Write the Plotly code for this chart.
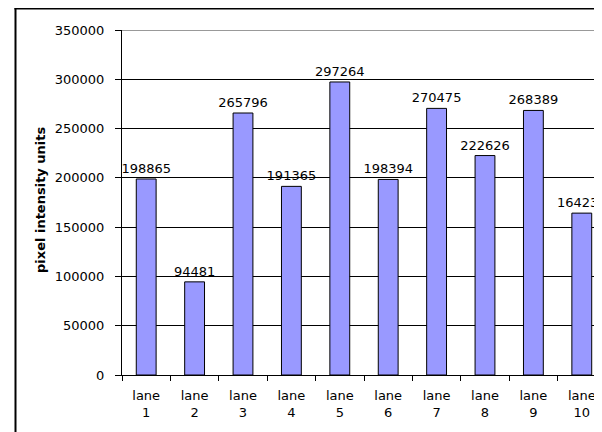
import plotly.graph_objects as go

categories = ["lane<br>1", "lane<br>2", "lane<br>3", "lane<br>4", "lane<br>5",
              "lane<br>6", "lane<br>7", "lane<br>8", "lane<br>9", "lane<br>10"]
values = [198865, 94481, 265796, 191365, 297264, 198394, 270475, 222626, 268389, 164233]
y_ticks = [0, 50000, 100000, 150000, 200000, 250000, 300000, 350000]

FONT = "DejaVu Sans"
FS = 13
OFF = 8  # page body margin offset
W, H = 602 - OFF, 432 - OFF
# plot area in page pixels: left 122, top 30, bottom 375, right 602
L, T = 122 - OFF, 30 - OFF
B = H - (375 - OFF)
plot_w = W - L
plot_h = H - T - B

fig = go.Figure()
fig.add_trace(go.Bar(
    x=categories, y=values,
    marker=dict(color="#9999FF", line=dict(color="black", width=1)),
    width=0.41,
    text=[str(v) for v in values], textposition="outside",
    constraintext="none",
    textfont=dict(family=FONT, size=FS, color="black"),
    cliponaxis=False,
))

def px_x(px):  # page px -> paper
    return (px - OFF - L) / plot_w

def px_y(py):
    return (H - B - (py - OFF)) / plot_h

fig.update_layout(
    width=W, height=H,
    margin=dict(l=L, r=0, t=T, b=B, pad=0, autoexpand=False),
    paper_bgcolor="white", plot_bgcolor="white",
    showlegend=False,
    font=dict(family=FONT, size=FS, color="black"),
    xaxis=dict(
        range=[-0.5, 9.5 - 4 / 48.5],
        automargin=False,
        showline=True, linecolor="black", linewidth=1,
        ticks="outside", ticklen=5, tickcolor="black", tickson="boundaries",
        showgrid=False,
        tickfont=dict(family=FONT, size=FS),
        ticklabelstandoff=8,
    ),
    yaxis=dict(
        range=[0, 350000], tickvals=y_ticks,
        ticktext=[str(v) for v in y_ticks],
        automargin=False,
        showline=True, linecolor="black", linewidth=1,
        ticks="outside", ticklen=6, tickcolor="black",
        showgrid=True, gridcolor="black", gridwidth=1,
        zeroline=False,
        tickfont=dict(family=FONT, size=FS),
        ticklabelstandoff=8,
    ),
    shapes=[
        dict(type="line", xref="paper", yref="y", x0=0, x1=1.01, y0=350000, y1=350000,
             line=dict(color="#999999", width=2), layer="above"),
        dict(type="line", xref="paper", yref="paper", x0=px_x(15.5), x1=px_x(15.5),
             y0=px_y(8), y1=px_y(440), line=dict(color="black", width=2)),
        dict(type="line", xref="paper", yref="paper", x0=px_x(14.5), x1=px_x(610),
             y0=px_y(8.5), y1=px_y(8.5), line=dict(color="black", width=2)),
    ],
    annotations=[
        dict(text="<b>pixel intensity units</b>", xref="paper", yref="paper",
             x=px_x(40), y=px_y(200), textangle=-90, showarrow=False,
             font=dict(family=FONT, size=13, color="black"),
             xanchor="center", yanchor="middle"),
    ],
)

fig.write_html("out.html")
